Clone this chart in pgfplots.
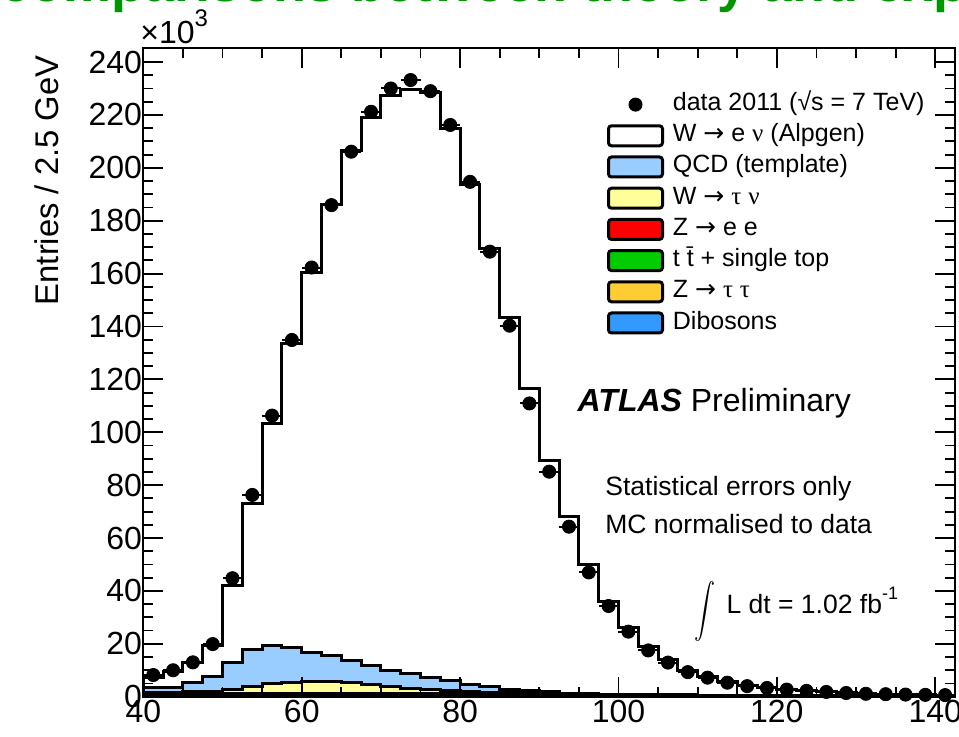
\documentclass[border=0pt]{standalone}
\usepackage{fontspec}
\setmainfont{Liberation Sans}
\newfontfamily\symfont{Liberation Serif}
\newfontfamily\arrfont{DejaVu Sans}
\usepackage{pgfplots}
\usepackage{pgfplotstable}
\pgfplotsset{compat=1.18}
\definecolor{qcd}{RGB}{153,204,255}
\definecolor{wtau}{RGB}{255,255,153}
\definecolor{zee}{RGB}{255,0,0}
\definecolor{ttb}{RGB}{0,204,0}
\definecolor{ztt}{RGB}{255,204,51}
\definecolor{dib}{RGB}{51,153,255}
\definecolor{titlegreen}{RGB}{0,150,0}
\newcommand{\arr}{{\arrfont →}}
\newcommand{\gnu}{{\symfont ν}}
\newcommand{\gtau}{{\symfont τ}}

% cumulative stack heights (x 10^3 entries) at bin left edges
\pgfplotstableread{
x     tot    qcd   wtau  zee   ttb   ztt   dib
40    7.3    3.5   1.5   1.1   0.6   0.35  0.12
42.5  9.6    3.5   1.6   1.15  0.6   0.35  0.12
45    12.8   5.5   1.8   1.2   0.65  0.4   0.15
47.5  19.5   7.5   2.1   1.25  0.65  0.4   0.15
50    42.0   13.0  2.8   1.3   0.7   0.4   0.15
52.5  73.2   17.8  3.7   1.35  0.7   0.4   0.15
55    103.2  19.2  4.9   1.4   0.7   0.4   0.15
57.5  133.5  18.5  5.5   1.4   0.7   0.4   0.15
60    160.3  16.8  5.9   1.4   0.7   0.4   0.15
62.5  186.0  15.5  5.7   1.4   0.7   0.4   0.15
65    206.5  13.8  5.2   1.4   0.7   0.4   0.15
67.5  219.2  11.8  4.5   1.4   0.7   0.4   0.15
70    227.5  10.1  3.8   1.4   0.7   0.4   0.15
72.5  229.6  8.7   3.1   1.4   0.7   0.4   0.15
75    228.4  7.3   2.6   1.4   0.7   0.35  0.15
77.5  214.9  6.0   2.2   1.35  0.65  0.35  0.15
80    193.6  4.8   1.9   1.3   0.6   0.3   0.15
82.5  169.6  3.7   1.7   1.2   0.55  0.3   0.12
85    143.3  2.9   1.5   1.1   0.5   0.3   0.12
87.5  116.6  2.2   1.3   1.0   0.45  0.25  0.12
90    89.2   1.8   1.1   0.9   0.45  0.25  0.1
92.5  68.1   1.4   0.95  0.8   0.4   0.2   0.1
95    50.1   1.2   0.85  0.7   0.4   0.2   0.08
97.5  36.1   1.0   0.75  0.65  0.35  0.15  0.08
100   26.2   0.9   0.7   0.6   0.3   0.15  0.07
102.5 19.1   0.8   0.6   0.55  0.3   0.12  0.07
105   14.2   0.7   0.55  0.5   0.25  0.1   0.06
107.5 10.1   0.65  0.5   0.45  0.22  0.1   0.05
110   7.6    0.6   0.45  0.4   0.2   0.08  0.05
112.5 5.7    0.55  0.4   0.35  0.18  0.07  0.04
115   4.3    0.5   0.35  0.3   0.15  0.06  0.04
117.5 3.4    0.45  0.3   0.27  0.14  0.05  0.03
120   2.8    0.4   0.28  0.25  0.12  0.05  0.03
122.5 2.2    0.35  0.25  0.22  0.11  0.04  0.03
125   1.8    0.3   0.22  0.2   0.1   0.04  0.02
127.5 1.5    0.27  0.2   0.18  0.09  0.03  0.02
130   1.2    0.25  0.18  0.16  0.08  0.03  0.02
132.5 1.0    0.22  0.16  0.14  0.07  0.02  0.01
135   0.8    0.2   0.14  0.12  0.06  0.02  0.01
137.5 0.7    0.18  0.12  0.1   0.05  0.02  0.01
140   0.6    0.16  0.1   0.09  0.05  0.01  0.01
142.5 0.6    0.16  0.1   0.09  0.05  0.01  0.01
}\mc

\pgfplotstableread{
x      y
41.25  8.2
43.75  10.0
46.25  13.0
48.75  19.9
51.25  44.8
53.75  76.3
56.25  106.3
58.75  134.9
61.25  162.3
63.75  185.9
66.25  206.1
68.75  221.2
71.25  230.0
73.75  233.2
76.25  229.0
78.75  216.2
81.25  194.7
83.75  168.3
86.25  140.3
88.75  110.9
91.25  85.1
93.75  64.3
96.25  47.0
98.75  34.3
101.25 24.6
103.75 17.5
106.25 12.9
108.75 9.3
111.25 7.2
113.75 5.3
116.25 4.0
118.75 3.3
121.25 2.7
123.75 2.2
126.25 1.8
128.75 1.4
131.25 1.1
133.75 0.95
136.25 0.8
138.75 0.7
141.25 0.6
}\data

\begin{document}
\begin{tikzpicture}
\path[use as bounding box] (0,0) rectangle (479.5pt,368pt);
\begin{axis}[
  name=ax,
  at={(71.7pt,19.65pt)}, anchor=south west,
  scale only axis, width=405.8pt, height=324.2pt,
  xmin=40, xmax=142.5, ymin=0, ymax=245.2,
  xtick={40,60,...,140}, minor x tick num=3,
  ytick={0,20,...,240}, minor y tick num=3,
  major tick length=10pt, minor tick length=5pt,
  tick style={line width=0.9pt, black},
  axis line style={line width=1pt},
  axis on top,
  /pgf/number format/assume math mode=true,
  tick label style={font=\fontsize{16}{19}\selectfont},
  xticklabel style={yshift=2.0pt},
  yticklabel style={xshift=2.8pt},
  legend cell align=left,
  legend style={at={(axis cs:98.5,228.6)}, anchor=north west, draw=none, fill=none,
    inner sep=0pt, row sep=3.6pt, column sep=0pt,
    font=\fontsize{12.5}{15}\selectfont,
    nodes={inner sep=0pt, text height=9pt, text depth=3pt}},
  hist/.style={const plot, draw=black, line width=1.5pt,
    legend image code/.code={
      \draw[##1, line width=1.5pt, rounded corners=1.5pt] (0pt,-5pt) rectangle (27pt,5pt);
      \path[draw=none, fill=none] (0pt,0pt) -- (32.2pt,0pt);}},
]
\addlegendimage{legend image code/.code={\fill[black] (13.5pt,0pt) circle (3.3pt);
   \path[draw=none, fill=none] (0pt,-5pt) -- (32.2pt,5pt);}}
\addlegendentry{data 2011 (√s = 7 TeV)}
\addplot[hist, fill=white] table[x=x, y=tot]{\mc} \closedcycle;
\addlegendentry{W \arr\ e \gnu\ (Alpgen)}
\addplot[hist, fill=qcd] table[x=x, y=qcd]{\mc} \closedcycle;
\addlegendentry{QCD (template)}
\addplot[hist, fill=wtau] table[x=x, y=wtau]{\mc} \closedcycle;
\addlegendentry{W \arr\ \gtau\ \gnu}
\addplot[hist, fill=zee] table[x=x, y=zee]{\mc} \closedcycle;
\addlegendentry{Z \arr\ e e}
\addplot[hist, fill=ttb] table[x=x, y=ttb]{\mc} \closedcycle;
\addlegendentry{t \=t + single top}
\addplot[hist, fill=ztt] table[x=x, y=ztt]{\mc} \closedcycle;
\addlegendentry{Z \arr\ \gtau\ \gtau}
\addplot[hist, fill=dib] table[x=x, y=dib]{\mc} \closedcycle;
\addlegendentry{Dibosons}
\addplot[forget plot, only marks, mark=*, mark size=3.3pt, black,
  error bars/.cd, x dir=both, x fixed=1.25, error mark=none,
  error bar style={line width=1pt}] table[x=x, y=y]{\data};

\node[anchor=base west, inner sep=0pt] at (axis cs:94.8,107.7)
  {\fontsize{16}{19}\selectfont\textbf{\textit{ATLAS}} Preliminary};
\node[anchor=base west, inner sep=0pt] at (axis cs:98.3,75.9)
  {\fontsize{13.25}{16}\selectfont Statistical errors only};
\node[anchor=base west, inner sep=0pt] at (axis cs:98.3,61.9)
  {\fontsize{13.25}{16}\selectfont MC normalised to data};
\node[inner sep=0pt] at (axis cs:110.9,32.4)
  {\scalebox{1.05}[1.35]{$\displaystyle\int$}};
\node[anchor=base west, inner sep=0pt] at (axis cs:113.6,31.3)
  {\fontsize{13.25}{16}\selectfont L dt = 1.02 fb\raisebox{7pt}{\fontsize{9}{10}\selectfont -1}};
\end{axis}
\node[rotate=90, anchor=base east, inner sep=0pt] at (29pt,340.5pt)
  {\fontsize{16.4}{19}\selectfont Entries / 2.5 GeV};
\node[anchor=base west, inner sep=0pt] at (70pt,346.3pt)
  {\fontsize{16}{18}\selectfont ×10\raisebox{8.5pt}{\fontsize{12}{14}\selectfont 3}};
\node[anchor=base west, inner sep=0pt, text=titlegreen] at (0pt,367.4pt)
  {\fontsize{27}{32}\selectfont\bfseries comparisons between theory and experiment};
\end{tikzpicture}
\end{document}
